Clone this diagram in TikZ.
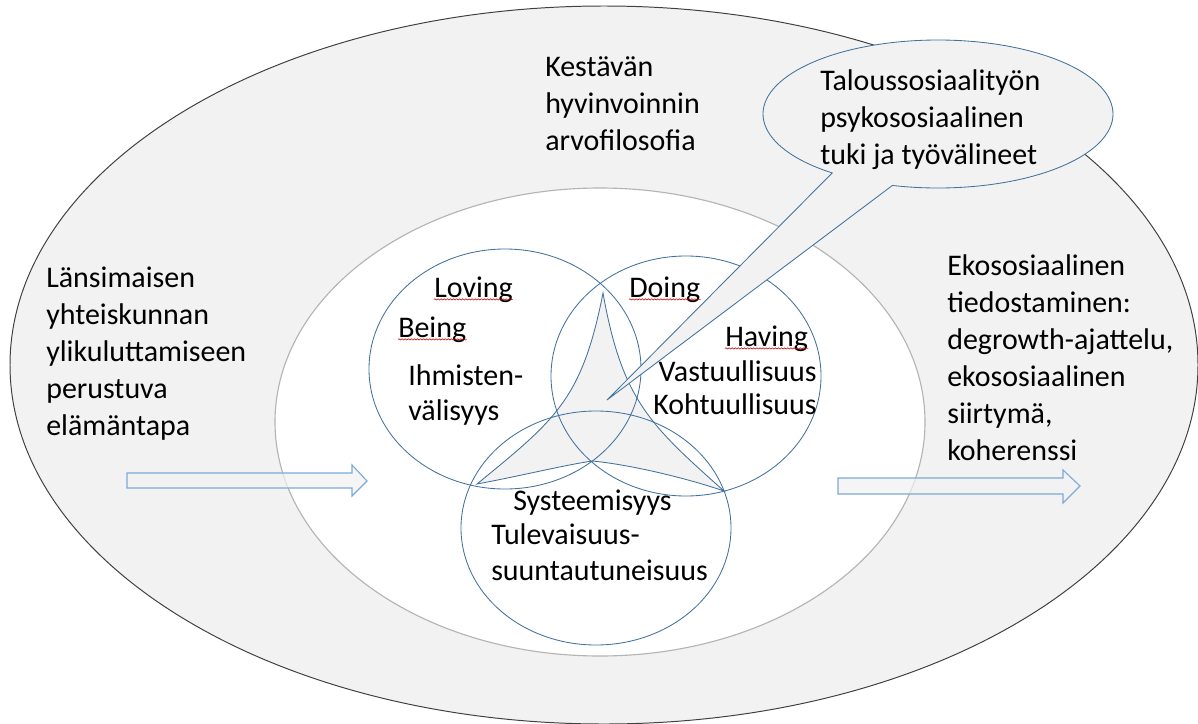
\documentclass[tikz,border=0pt]{standalone}
\usepackage{fontspec}
\setmainfont{Carlito}
\usetikzlibrary{calc,decorations.pathmorphing}
\definecolor{bgfill}{RGB}{242,242,242}
\definecolor{rimgray}{RGB}{64,64,64}
\definecolor{ringgray}{RGB}{180,180,180}
\definecolor{vennblue}{RGB}{65,113,156}
\definecolor{arrowblue}{RGB}{125,170,215}
\tikzset{
  lbl/.style={font=\fontsize{21.3}{26.3}\selectfont, align=left, inner sep=0pt, anchor=base west},
  tight/.style={font=\fontsize{21.3}{24.2}\selectfont},
  venn/.style={draw=vennblue, line width=0.6pt},
  fatarrow/.style={draw=arrowblue, line width=0.8pt, fill=bgfill, fill opacity=0.7},
  spell/.style={draw=red!80!black, line width=0.4pt, decorate, decoration={snake, amplitude=0.45pt, segment length=2.2pt}}}

\begin{document}
\begin{tikzpicture}[x=0.025cm, y=-0.025cm]
  \useasboundingbox (0,0) rectangle (1198,724);
  % outer and inner field
  \filldraw[fill=bgfill, draw=rimgray, line width=0.7pt] (604,365) ellipse [x radius=594, y radius=359];
  \filldraw[fill=white, draw=ringgray, line width=0.8pt] (600,422) ellipse [x radius=325, y radius=234];
  % star in the middle
  \coordinate (top) at (603,293);
  \coordinate (lft) at (477,484);
  \coordinate (rgt) at (724,491);
  \coordinate (dip) at (592,461);
  \filldraw[fill=bgfill, venn] (top) .. controls (582,400) and (555,420) .. (lft)
     .. controls (520,476) and (560,466) .. (dip) .. controls (625,464) and (680,476) .. (rgt)
     .. controls (650,425) and (622,400) .. (top) -- cycle;
  % three circles
  \draw[venn] (505,369) ellipse [x radius=136, y radius=120];
  \draw[venn] (686,376) ellipse [x radius=135, y radius=120];
  \draw[venn] (596,528) ellipse [x radius=135, y radius=117];
  % block arrows
  \draw[fatarrow] (127,473) -- (352,473) -- (352,465) -- (367,481) -- (352,496) -- (352,488) -- (127,488) -- cycle;
  \draw[fatarrow] (838,478) -- (1063,478) -- (1063,470) -- (1080,486) -- (1063,503) -- (1063,494) -- (838,494) -- cycle;
  % callout
  \coordinate (tip) at (607,400);
  \filldraw[fill=bgfill, venn] (tip) -- ($(938,114)+(127.2:175 and 74)$)
     arc[start angle=127.2, end angle=465.1, x radius=175, y radius=74] -- cycle;

  % multi-line nodes sit on the baseline of their last line
  \node[lbl] (kest) at (545,150) {Kestävän\\hyvinvoinnin\\arvofilosofia};
  \node[lbl] (tuki) at (820,164) {Taloussosiaalityön\\psykososiaalinen\\tuki ja työvälineet};
  \node[lbl] (west) at (46,435) {Länsimaisen\\yhteiskunnan\\ylikuluttamiseen\\perustuva\\elämäntapa};
  \node[lbl] (eko) at (947,460) {Ekososiaalinen\\tiedostaminen:\\degrowth-ajattelu,\\ekososiaalinen\\siirtymä,\\koherenssi};
  \node[lbl] (loving) at (434,297) {Loving};
  \node[lbl] (doing) at (629,297) {Doing};
  \node[lbl] (being) at (398,337) {Being};
  \node[lbl] (having) at (725,346) {Having};
  \node[lbl, tight] (ihm) at (408,420) {Ihmisten-\\välisyys};
  \node[lbl, font=\fontsize{21.3}{22.8}\selectfont, align=right, anchor=base east] (vast) at (817,414) {Vastuullisuus\\Kohtuullisuus};
  \node[lbl] (syst) at (513,510) {Systeemisyys};
  \node[lbl, font=\fontsize{21.3}{24.9}\selectfont] (tulev) at (491,580) {Tulevaisuus-\\suuntautuneisuus};
  \foreach \w in {loving,being,doing,having}
    \draw[spell] ([yshift=-0.06cm]\w.base west) -- ([yshift=-0.06cm]\w.base east);
\end{tikzpicture}
\end{document}
